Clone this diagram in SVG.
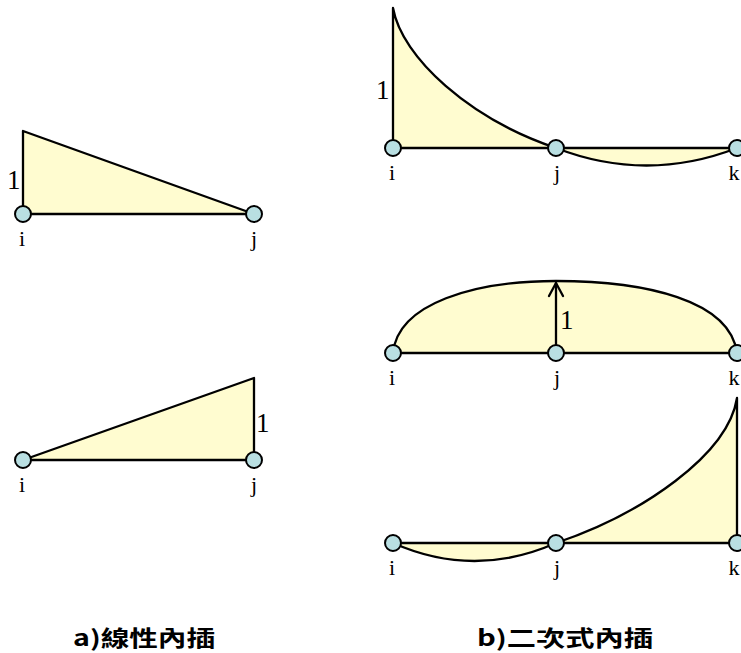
<svg xmlns="http://www.w3.org/2000/svg" width="741" height="653" viewBox="0 0 741 653">
<style>
.fill{fill:#fffcd0;stroke:none}
.ln{fill:none;stroke:#000;stroke-width:2.3;stroke-linecap:round;stroke-linejoin:round}
.node{fill:#b9dfe2;stroke:#000;stroke-width:2}
.lbl{font-family:"Liberation Serif","DejaVu Serif",serif;font-size:22px;fill:#000;text-anchor:middle}
.one{font-family:"Liberation Serif","DejaVu Serif",serif;font-size:27px;fill:#000}
.cap{font-family:"Noto Sans CJK TC","Noto Sans CJK SC",sans-serif;font-size:22px;font-weight:bold;fill:#000}
</style>
<rect width="741" height="653" fill="#fff"/>
<!-- Panel a top -->
<g id="a-top-shape">
<polygon class="fill" points="23,131 254,214 23,214"/>
<polyline class="ln" points="23,214 23,131 254,214"/>
<line class="ln" x1="23" y1="214" x2="254" y2="214"/>
</g>
<g id="a-top-i"><circle class="node" cx="23" cy="214" r="8"/><text class="lbl" x="22" y="246">i</text></g>
<g id="a-top-j"><circle class="node" cx="254" cy="214" r="8"/><text class="lbl" x="254" y="246">j</text></g>
<text class="one" x="7" y="189">1</text>
<!-- Panel a bottom -->
<g id="a-bot-shape">
<polygon class="fill" points="23,460 254,378 254,460"/>
<polyline class="ln" points="23,460 254,378 254,460"/>
<line class="ln" x1="23" y1="460" x2="254" y2="460"/>
</g>
<g id="a-bot-i"><circle class="node" cx="23" cy="460" r="8"/><text class="lbl" x="22" y="492">i</text></g>
<g id="a-bot-j"><circle class="node" cx="254" cy="460" r="8"/><text class="lbl" x="254" y="492">j</text></g>
<text class="one" x="256" y="432">1</text>
<!-- Panel b top -->
<g id="b-top-shape">
<path class="fill" d="M393,148 L393,8 C402,58 470,119 556,148 Q646.5,183 737,148 Z"/>
<path class="ln" d="M393,148 L393,8 C402,58 470,119 556,148 Q646.5,183 737,148"/>
<line class="ln" x1="393" y1="148" x2="737" y2="148"/>
</g>
<g id="b-top-i"><circle class="node" cx="393" cy="148" r="8"/><text class="lbl" x="392" y="180">i</text></g>
<g id="b-top-j"><circle class="node" cx="556" cy="148" r="8"/><text class="lbl" x="557" y="180">j</text></g>
<g id="b-top-k"><circle class="node" cx="737" cy="148" r="8"/><text class="lbl" x="734" y="180">k</text></g>
<text class="one" x="376" y="99">1</text>
<!-- Panel b middle -->
<g id="b-mid-shape">
<path class="fill" d="M393,353 C398,303 475,281 556,281 C645,281 730,300 737,353 Z"/>
<path class="ln" d="M393,353 C398,303 475,281 556,281 C645,281 730,300 737,353"/>
<line class="ln" x1="393" y1="353" x2="737" y2="353"/>
</g>
<g id="connectors">
<line class="ln" x1="556" y1="353" x2="556" y2="283"/>
<polyline class="ln" points="549,296 556,283 563,296"/>
</g>
<g id="b-mid-i"><circle class="node" cx="393" cy="353" r="8"/><text class="lbl" x="392" y="385">i</text></g>
<g id="b-mid-j"><circle class="node" cx="556" cy="353" r="8"/><text class="lbl" x="557" y="385">j</text></g>
<g id="b-mid-k"><circle class="node" cx="737" cy="353" r="8"/><text class="lbl" x="734" y="385">k</text></g>
<text class="one" x="560" y="329">1</text>
<!-- Panel b bottom -->
<g id="b-bot-shape">
<path class="fill" d="M393,543 Q474.5,579 556,543 C642,514 728,455 737,398 L737,543 Z"/>
<path class="ln" d="M393,543 Q474.5,579 556,543 C642,514 728,455 737,398 L737,543"/>
<line class="ln" x1="393" y1="543" x2="737" y2="543"/>
</g>
<g id="b-bot-i"><circle class="node" cx="393" cy="543" r="8"/><text class="lbl" x="392" y="575">i</text></g>
<g id="b-bot-j"><circle class="node" cx="556" cy="543" r="8"/><text class="lbl" x="557" y="575">j</text></g>
<g id="b-bot-k"><circle class="node" cx="737" cy="543" r="8"/><text class="lbl" x="734" y="575">k</text></g>
<!-- Captions -->
<text class="cap" x="73" y="646" textLength="142" lengthAdjust="spacingAndGlyphs">a)線性內插</text>
<text class="cap" x="477" y="646" textLength="176" lengthAdjust="spacingAndGlyphs">b)二次式內插</text>
</svg>
